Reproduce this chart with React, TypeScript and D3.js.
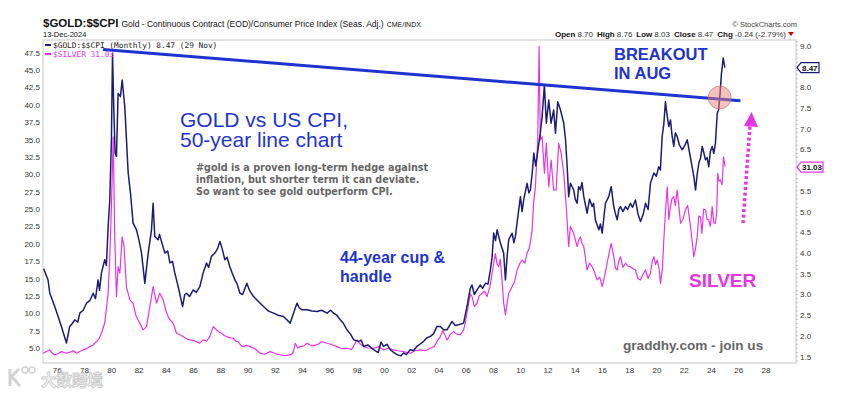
import React, { useRef, useEffect } from 'react';
import * as d3 from 'd3';

// Gold / CPI ratio (right axis) - [decimal year, ratio]
const goldCpi: [number, number][] = [
  [1975.0, 3.62], [1975.2, 3.45], [1975.32, 3.35], [1975.45, 3.03], [1975.81, 2.71], [1976.06, 2.47],
  [1976.3, 2.23], [1976.67, 1.83], [1976.91, 2.23], [1977.1, 2.3], [1977.28, 2.39], [1977.5, 2.33],
  [1977.65, 2.55], [1977.9, 2.62], [1978.14, 2.79], [1978.4, 2.86], [1978.63, 3.03], [1978.8, 2.9],
  [1978.99, 3.35], [1979.1, 3.1], [1979.24, 3.52], [1979.48, 3.84], [1979.6, 3.7], [1979.73, 4.64],
  [1979.85, 5.28], [1979.97, 6.73], [1980.05, 8.82], [1980.14, 7.53], [1980.24, 6.41], [1980.34, 6.33],
  [1980.46, 7.85], [1980.63, 7.77], [1980.76, 8.17], [1980.95, 7.53], [1981.2, 5.93], [1981.37, 5.44],
  [1981.56, 4.72], [1981.81, 4.56], [1982.0, 4.3], [1982.18, 4.0], [1982.42, 3.27], [1982.67, 4.0],
  [1982.91, 4.56], [1983.03, 5.2], [1983.15, 4.4], [1983.4, 4.32], [1983.5, 4.45], [1983.64, 4.28],
  [1983.89, 4.0], [1984.1, 4.05], [1984.26, 3.76], [1984.45, 3.8], [1984.62, 3.52], [1984.87, 3.19],
  [1985.19, 2.71], [1985.35, 3.0], [1985.48, 3.03], [1985.7, 2.95], [1985.97, 3.11], [1986.2, 3.05],
  [1986.46, 3.19], [1986.7, 3.52], [1986.95, 3.76], [1987.1, 3.65], [1987.31, 3.92], [1987.56, 4.0],
  [1987.75, 4.1], [1987.93, 4.28], [1988.1, 4.1], [1988.29, 3.84], [1988.45, 3.9], [1988.66, 3.67],
  [1988.85, 3.5], [1989.03, 3.35], [1989.2, 3.25], [1989.4, 3.03], [1989.6, 3.0], [1989.91, 3.27],
  [1990.1, 3.1], [1990.4, 2.95], [1990.7, 2.85], [1991.13, 2.71], [1991.5, 2.6], [1991.87, 2.55],
  [1992.2, 2.5], [1992.6, 2.47], [1993.09, 2.31], [1993.58, 2.79], [1993.75, 2.68], [1993.95, 2.63],
  [1994.32, 2.63], [1994.7, 2.6], [1995.05, 2.59], [1995.4, 2.62], [1995.79, 2.55], [1996.05, 2.62],
  [1996.27, 2.55], [1996.5, 2.5], [1996.76, 2.39], [1997.0, 2.3], [1997.25, 2.15], [1997.5, 2.05],
  [1997.74, 1.91], [1998.11, 1.87], [1998.3, 1.9], [1998.47, 1.75], [1998.8, 1.78], [1999.21, 1.67],
  [1999.55, 1.6], [1999.75, 1.85], [1999.94, 1.75], [2000.2, 1.8], [2000.43, 1.67], [2000.7, 1.6],
  [2000.93, 1.55], [2001.2, 1.52], [2001.41, 1.59], [2001.6, 1.55], [2001.9, 1.67], [2002.15, 1.65],
  [2002.39, 1.75], [2002.6, 1.8], [2002.88, 1.87], [2003.1, 1.95], [2003.37, 1.99], [2003.6, 2.05],
  [2003.86, 2.23], [2004.1, 2.23], [2004.35, 2.15], [2004.6, 2.15], [2004.96, 2.35], [2005.2, 2.25],
  [2005.45, 2.27], [2005.81, 2.31], [2006.06, 2.71], [2006.3, 3.15], [2006.43, 3.23], [2006.6, 3.0],
  [2006.8, 3.11], [2007.04, 3.23], [2007.2, 3.15], [2007.41, 3.27], [2007.6, 3.25], [2007.78, 3.6],
  [2007.9, 3.9], [2008.02, 4.48], [2008.15, 4.3], [2008.27, 4.56], [2008.51, 4.24], [2008.75, 4.0],
  [2008.88, 3.35], [2009.0, 3.9], [2009.12, 4.32], [2009.37, 4.48], [2009.5, 4.25], [2009.61, 4.4],
  [2009.8, 4.9], [2009.98, 5.36], [2010.1, 5.0], [2010.22, 5.28], [2010.47, 5.68], [2010.6, 5.45],
  [2010.71, 5.52], [2010.85, 5.95], [2010.96, 6.41], [2011.1, 6.1], [2011.2, 6.33], [2011.44, 6.89],
  [2011.57, 7.29], [2011.74, 8.05], [2011.88, 7.13], [2012.06, 7.69], [2012.23, 7.13], [2012.42, 7.45],
  [2012.55, 6.89], [2012.72, 7.65], [2012.92, 7.45], [2013.16, 7.13], [2013.29, 6.73], [2013.41, 6.08],
  [2013.52, 5.36], [2013.65, 5.68], [2013.89, 5.52], [2014.0, 5.3], [2014.14, 5.2], [2014.25, 5.6],
  [2014.38, 5.52], [2014.5, 5.7], [2014.63, 5.36], [2014.87, 4.96], [2015.05, 5.3], [2015.24, 5.12],
  [2015.35, 5.2], [2015.48, 4.8], [2015.73, 4.56], [2015.85, 4.7], [2015.98, 4.48], [2016.1, 4.85],
  [2016.22, 5.2], [2016.46, 5.36], [2016.64, 5.6], [2016.83, 5.12], [2016.95, 4.95], [2017.08, 4.8],
  [2017.2, 5.05], [2017.32, 5.12], [2017.5, 5.0], [2017.69, 5.12], [2017.85, 5.05], [2018.05, 5.2],
  [2018.2, 5.1], [2018.42, 5.28], [2018.6, 4.95], [2018.79, 4.76], [2019.0, 4.95], [2019.16, 5.2],
  [2019.35, 5.05], [2019.52, 5.68], [2019.77, 5.93], [2019.95, 5.85], [2020.13, 6.08], [2020.25, 6.0],
  [2020.38, 6.81], [2020.5, 7.1], [2020.62, 7.65], [2020.75, 7.3], [2020.87, 7.05], [2020.99, 7.21],
  [2021.1, 6.85], [2021.23, 6.57], [2021.35, 6.9], [2021.48, 6.81], [2021.65, 6.6], [2021.85, 6.49],
  [2022.05, 6.6], [2022.22, 6.73], [2022.4, 6.4], [2022.58, 6.08], [2022.7, 5.85], [2022.83, 5.52],
  [2022.95, 5.9], [2023.07, 6.17], [2023.2, 6.3], [2023.32, 6.57], [2023.45, 6.4], [2023.56, 6.25],
  [2023.68, 6.3], [2023.8, 6.08], [2023.92, 6.45], [2024.05, 6.57], [2024.17, 6.4], [2024.29, 6.65],
  [2024.42, 7.37], [2024.52, 7.45], [2024.61, 7.77], [2024.73, 8.33], [2024.86, 8.70], [2024.98, 8.47],
];

// Silver price (left axis) - [decimal year, USD]
const silver: [number, number][] = [
  [1974.96, 4.25], [1975.2, 4.5], [1975.45, 4.72], [1975.6, 4.3], [1975.81, 4.0], [1976.05, 4.2],
  [1976.3, 4.48], [1976.67, 4.25], [1977.04, 4.48], [1977.2, 4.6], [1977.4, 4.25], [1977.65, 4.5],
  [1977.89, 4.72], [1978.15, 4.9], [1978.38, 5.2], [1978.6, 5.4], [1978.87, 5.92], [1979.05, 6.3],
  [1979.24, 7.13], [1979.48, 8.6], [1979.73, 12.9], [1979.85, 18.15], [1979.97, 25.3], [1980.1, 35.4],
  [1980.22, 20.55], [1980.34, 12.4], [1980.46, 16.7], [1980.59, 15.76], [1980.76, 21.0], [1980.9, 19.6],
  [1981.07, 13.83], [1981.32, 11.92], [1981.56, 11.44], [1981.75, 9.8], [1981.93, 9.04], [1982.1, 8.4],
  [1982.3, 7.6], [1982.54, 8.08], [1982.79, 10.95], [1983.03, 13.83], [1983.28, 11.44], [1983.52, 12.88],
  [1983.77, 11.92], [1983.95, 10.5], [1984.13, 9.51], [1984.3, 9.0], [1984.5, 8.56], [1984.75, 7.13],
  [1985.0, 6.9], [1985.23, 6.64], [1985.5, 6.3], [1985.72, 6.16], [1985.95, 6.1], [1986.21, 5.92],
  [1986.45, 5.7], [1986.7, 6.16], [1986.95, 6.0], [1987.19, 6.64], [1987.44, 8.08], [1987.68, 7.6],
  [1987.85, 7.3], [1988.05, 7.13], [1988.25, 6.8], [1988.42, 6.64], [1988.65, 6.5], [1988.91, 6.4],
  [1989.1, 6.0], [1989.27, 5.92], [1989.45, 5.4], [1989.64, 5.2], [1989.9, 5.4], [1990.15, 5.2],
  [1990.5, 4.9], [1990.89, 4.25], [1991.2, 4.1], [1991.62, 4.48], [1992.0, 4.2], [1992.36, 4.0],
  [1992.7, 3.9], [1993.09, 4.0], [1993.3, 4.3], [1993.46, 5.68], [1993.65, 5.0], [1993.83, 5.2],
  [1994.1, 5.3], [1994.32, 5.68], [1994.7, 5.3], [1995.05, 5.44], [1995.4, 5.9], [1995.79, 5.68],
  [1996.1, 5.5], [1996.52, 5.2], [1996.9, 4.9], [1997.25, 4.96], [1997.6, 4.8], [1997.99, 6.16],
  [1998.2, 5.6], [1998.47, 5.2], [1998.8, 5.0], [1999.21, 4.96], [1999.6, 5.2], [1999.94, 4.72],
  [2000.3, 5.0], [2000.68, 4.72], [2001.0, 4.6], [2001.41, 4.48], [2001.9, 4.25], [2002.25, 4.6],
  [2002.64, 4.72], [2003.0, 4.6], [2003.37, 4.96], [2003.65, 5.2], [2003.86, 5.92], [2004.1, 6.64],
  [2004.3, 7.5], [2004.6, 6.16], [2004.85, 7.0], [2005.08, 7.36], [2005.3, 7.0], [2005.57, 6.88],
  [2005.81, 7.6], [2005.95, 8.8], [2006.06, 10.0], [2006.3, 12.8], [2006.43, 12.4], [2006.6, 11.0],
  [2006.8, 11.44], [2006.95, 12.5], [2007.17, 12.88], [2007.35, 13.2], [2007.53, 12.4], [2007.75, 13.9],
  [2007.9, 15.76], [2008.14, 18.6], [2008.25, 17.2], [2008.38, 16.7], [2008.5, 17.8], [2008.63, 14.8],
  [2008.75, 11.5], [2008.88, 9.76], [2009.0, 11.3], [2009.12, 12.88], [2009.37, 13.83], [2009.55, 14.5],
  [2009.74, 16.23], [2009.92, 17.1], [2010.1, 17.67], [2010.3, 17.2], [2010.47, 18.64], [2010.65, 19.5],
  [2010.84, 21.99], [2010.95, 26.0], [2011.08, 28.2], [2011.25, 34.94], [2011.35, 48.4], [2011.44, 34.94],
  [2011.57, 35.4], [2011.74, 30.15], [2011.88, 34.46], [2012.06, 28.2], [2012.23, 32.06], [2012.42, 27.74],
  [2012.6, 27.74], [2012.79, 34.46], [2012.97, 33.0], [2013.16, 30.15], [2013.36, 24.87], [2013.52, 19.6],
  [2013.65, 22.5], [2013.89, 21.5], [2014.14, 19.6], [2014.25, 20.5], [2014.38, 21.0], [2014.5, 20.0],
  [2014.63, 19.6], [2014.87, 16.23], [2015.05, 17.2], [2015.24, 16.7], [2015.4, 16.0], [2015.61, 14.8],
  [2015.8, 15.2], [2015.98, 13.83], [2016.15, 15.3], [2016.34, 17.2], [2016.5, 18.8], [2016.64, 20.07],
  [2016.83, 18.15], [2016.95, 16.5], [2017.08, 16.23], [2017.2, 17.5], [2017.32, 18.15], [2017.5, 16.6],
  [2017.69, 17.2], [2017.85, 16.8], [2018.05, 16.7], [2018.25, 16.4], [2018.42, 16.23], [2018.6, 15.0],
  [2018.79, 14.8], [2018.95, 15.5], [2019.16, 16.23], [2019.35, 15.0], [2019.52, 15.76], [2019.65, 17.5],
  [2019.77, 18.15], [2019.9, 17.0], [2020.01, 17.67], [2020.15, 16.5], [2020.26, 14.3], [2020.4, 16.5],
  [2020.5, 20.55], [2020.62, 24.5], [2020.75, 28.2], [2020.87, 23.5], [2020.99, 25.34], [2021.1, 26.5],
  [2021.23, 26.78], [2021.35, 25.5], [2021.48, 27.74], [2021.6, 25.5], [2021.73, 22.95], [2021.9, 23.5],
  [2022.09, 24.87], [2022.25, 25.5], [2022.46, 22.5], [2022.6, 20.0], [2022.7, 18.15], [2022.82, 19.2],
  [2022.95, 21.0], [2023.07, 24.0], [2023.19, 23.9], [2023.3, 21.5], [2023.42, 25.0], [2023.56, 24.87],
  [2023.68, 23.5], [2023.8, 23.43], [2023.92, 22.5], [2024.05, 25.34], [2024.17, 23.0], [2024.29, 22.95],
  [2024.38, 24.5], [2024.46, 30.15], [2024.55, 29.0], [2024.65, 29.2], [2024.78, 28.5], [2024.88, 32.5],
  [2025.0, 31.1],
];

// resistance line from 1980 top (gold/CPI units)
const trendLine: [number, number][] = [[1979.36, 8.91], [2026.12, 7.67]];

const xTickYears = d3.range(1976, 2029, 2);
const leftTicks = d3.range(5, 47.6, 2.5);
const rightTicks = d3.range(1.5, 9.01, 0.5);

const ohlc = [
  ['Open', '8.70'], ['High', '8.76'], ['Low', '8.03'], ['Close', '8.47'], ['Chg', '-0.24 (-2.79%)'],
];

const FONT = "'Liberation Sans', Arial, sans-serif";
const NAVY = '#1c1c74';
const MAGENTA = '#e635e4';
const BLUE = '#1f33d0';

const App = () => {
  const ref = useRef<SVGSVGElement | null>(null);

  useEffect(() => {
    const W = 847, H = 393;
    const left = 43, right = 796, top = 40, bottom = 363;

    const svg = d3.select(ref.current);
    svg.selectAll('*').remove();

    const x = d3.scaleLinear().domain([1974.95, 2030.2]).range([left, right]);
    const yL = d3.scaleLinear().domain([2.84, 49.33]).range([bottom, top]);
    const yR = d3.scaleLinear().domain([1.348, 9.137]).range([bottom, top]);

    svg.append('rect').attr('width', W).attr('height', H).attr('fill', '#fff');

    // header
    const hdr = svg.append('text').attr('x', 43).attr('y', 27).attr('font-family', FONT).attr('fill', '#111');
    hdr.append('tspan').attr('font-size', 11.5).attr('font-weight', 'bold').text('$GOLD:$$CPI');
    hdr.append('tspan').attr('font-size', 8.5).attr('dx', 3).text('Gold - Continuous Contract (EOD)/Consumer Price Index (Seas. Adj.)');
    hdr.append('tspan').attr('font-size', 7).attr('dx', 3).text('CME/INDX');

    svg.append('text').attr('x', 43).attr('y', 37).attr('font-family', FONT).attr('font-size', 7.5)
      .attr('fill', '#111').text('13-Dec-2024');

    svg.append('text').attr('x', 797).attr('y', 27).attr('text-anchor', 'end').attr('font-family', FONT)
      .attr('font-size', 7.5).attr('fill', '#444').text('© StockCharts.com');

    const ohlcText = svg.append('text').attr('x', 786).attr('y', 36.5).attr('text-anchor', 'end')
      .attr('font-family', FONT).attr('font-size', 8).attr('fill', '#111');
    ohlc.forEach(([k, v], i) => {
      ohlcText.append('tspan').attr('font-weight', 'bold').attr('dx', i ? 4 : 0).text(k);
      ohlcText.append('tspan').attr('dx', 2).attr('fill', '#333').text(v);
    });
    svg.append('path').attr('d', 'M788,32 L794,32 L791,36 Z').attr('fill', '#c00');

    // frame
    svg.append('rect').attr('x', left).attr('y', top).attr('width', right - left).attr('height', bottom - top)
      .attr('fill', 'none').attr('stroke', '#c8c8c8');

    // left axis labels
    svg.append('g').selectAll('text').data(leftTicks).enter().append('text')
      .attr('x', 40).attr('y', d => yL(d) + 3).attr('text-anchor', 'end')
      .attr('font-family', FONT).attr('font-size', 8).attr('fill', '#333')
      .text(d => d3.format('.1f')(d));

    // last-value tag positions (labels underneath them are hidden)
    const goldLast = goldCpi[goldCpi.length - 1][1];
    const silverLast = 31.03;
    const tagYs = [yR(goldLast), yL(silverLast)];

    // right axis labels + ticks
    svg.append('g').selectAll('text')
      .data(rightTicks.filter(d => tagYs.every(ty => Math.abs(yR(d) - ty) > 7)))
      .enter().append('text')
      .attr('x', 800).attr('y', d => yR(d) + 3)
      .attr('font-family', FONT).attr('font-size', 8).attr('fill', '#333')
      .text(d => d3.format('.1f')(d));
    svg.append('g').selectAll('line').data(d3.range(1.4, 9.13, 0.1)).enter().append('line')
      .attr('x1', right).attr('x2', right + 2).attr('y1', d => yR(d)).attr('y2', d => yR(d))
      .attr('stroke', '#bbb').attr('stroke-width', 0.8);

    // bottom axis
    svg.append('g').selectAll('text').data(xTickYears).enter().append('text')
      .attr('x', d => x(d)).attr('y', 373).attr('text-anchor', 'middle')
      .attr('font-family', FONT).attr('font-size', 8).attr('fill', '#333')
      .text(d => String(d % 100).padStart(2, '0'));

    // lines
    const silverLine = d3.line<[number, number]>().x(d => x(d[0])).y(d => yL(d[1]));
    const goldLine = d3.line<[number, number]>().x(d => x(d[0])).y(d => yR(d[1]));

    svg.append('path').datum(silver).attr('d', silverLine).attr('fill', 'none')
      .attr('stroke', MAGENTA).attr('stroke-width', 1.2).attr('stroke-linejoin', 'round');
    svg.append('path').datum(goldCpi).attr('d', goldLine).attr('fill', 'none')
      .attr('stroke', NAVY).attr('stroke-width', 1.5).attr('stroke-linejoin', 'round');

    // resistance line
    svg.append('path').datum(trendLine).attr('d', goldLine).attr('stroke', BLUE)
      .attr('stroke-width', 3).attr('fill', 'none');

    // breakout circle
    svg.append('circle').attr('cx', x(2024.6)).attr('cy', yR(7.75)).attr('r', 11.5)
      .attr('fill', 'rgba(232,130,120,0.5)').attr('stroke', 'rgba(200,110,100,0.6)');

    // legend
    svg.append('line').attr('x1', 45).attr('x2', 51).attr('y1', 45).attr('y2', 45)
      .attr('stroke', NAVY).attr('stroke-width', 2);
    svg.append('text').attr('x', 53).attr('y', 48).attr('font-family', "'DejaVu Sans Mono', monospace")
      .attr('font-size', 7.8).attr('fill', '#222').text('$GOLD:$$CPI (Monthly) 8.47 (29 Nov)');
    svg.append('line').attr('x1', 45).attr('x2', 51).attr('y1', 54).attr('y2', 54)
      .attr('stroke', MAGENTA).attr('stroke-width', 2);
    svg.append('text').attr('x', 53).attr('y', 57).attr('font-family', "'DejaVu Sans Mono', monospace")
      .attr('font-size', 7.8).attr('fill', MAGENTA).text('$SILVER 31.03');

    // last value tags
    const tag = (yv: number, label: string, color: string, w: number) => {
      svg.append('path')
        .attr('d', `M${right + 1},${yv} L${right + 5},${yv - 5} L${right + 5 + w},${yv - 5} L${right + 5 + w},${yv + 5} L${right + 5},${yv + 5} Z`)
        .attr('fill', '#fff').attr('stroke', color).attr('stroke-width', 1.2);
      svg.append('text').attr('x', right + 6).attr('y', yv + 3).attr('font-family', FONT)
        .attr('font-size', 8).attr('font-weight', 'bold').attr('fill', '#111').text(label);
    };
    tag(tagYs[0], '8.47', NAVY, 18);
    tag(tagYs[1], '31.03', MAGENTA, 22);

    // annotations
    const ann = (tx: number, ty: number, lines: string[], size: number, color: string, weight: string,
      lh: number, family = FONT) => {
      const t = svg.append('text').attr('font-family', family).attr('font-size', size)
        .attr('font-weight', weight).attr('fill', color);
      lines.forEach((l, i) => t.append('tspan').attr('x', tx).attr('y', ty + i * lh).text(l));
    };
    ann(180, 127, ['GOLD vs US CPI,', '50-year line chart'], 21, BLUE, 'normal', 20);
    ann(196, 171, ['#gold is a proven long-term hedge against', 'inflation, but shorter term it can deviate.',
      'So want to see gold outperform CPI.'], 9.6, '#666', 'bold', 12, "'DejaVu Sans', Verdana, sans-serif");
    ann(340, 263, ['44-year cup &', 'handle'], 16, BLUE, 'bold', 18.5);
    ann(614, 60, ['BREAKOUT', 'IN AUG'], 16.5, BLUE, 'bold', 18.5);
    ann(689, 287, ['SILVER'], 19, MAGENTA, 'bold', 0);
    ann(623, 350, ['graddhy.com - join us'], 13.6, '#666', 'bold', 0);

    // dotted arrow
    svg.append('line').attr('x1', 743).attr('y1', 223).attr('x2', 750).attr('y2', 126)
      .attr('stroke', MAGENTA).attr('stroke-width', 3.5).attr('stroke-dasharray', '3,2.5');
    svg.append('path').attr('d', 'M751.5,112 L758,127 L744,126 Z').attr('fill', MAGENTA);

    // watermark
    const wm = svg.append('g').attr('opacity', 0.75);
    wm.append('path').attr('d', 'M10,369 L10,386 M10,378 L19,369 M12,377 L20,386')
      .attr('stroke', '#c4c4c4').attr('stroke-width', 3).attr('fill', 'none');
    wm.append('circle').attr('cx', 25).attr('cy', 370).attr('r', 3).attr('fill', 'none').attr('stroke', '#c4c4c4').attr('stroke-width', 1.5);
    wm.append('circle').attr('cx', 32).attr('cy', 370).attr('r', 3).attr('fill', 'none').attr('stroke', '#c4c4c4').attr('stroke-width', 1.5);
    wm.append('text').attr('x', 41).attr('y', 386).attr('font-family', "'Noto Sans CJK SC', sans-serif")
      .attr('font-size', 15.5).attr('font-weight', 'bold').attr('fill', '#fff')
      .attr('stroke', '#bdbdbd').attr('stroke-width', 1).text('大数跨境');
  }, []);

  return (
    <svg ref={ref} width={847} height={393}
      style={{ position: 'absolute', left: 0, top: 0, display: 'block' }} />
  );
};

export default App;
